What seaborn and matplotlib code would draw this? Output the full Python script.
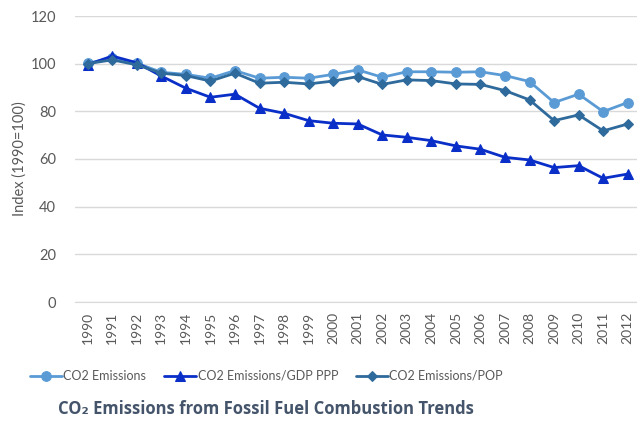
import matplotlib
matplotlib.use("Agg")
import matplotlib.pyplot as plt
import seaborn as sns
import pandas as pd

# Values (index, 1990 = 100)
years = list(range(1990, 2013))
co2_emissions = [100.2, 102.3, 100.2, 96.4, 95.5, 93.9, 97.1, 93.9, 94.3, 93.9, 95.5,
                 97.4, 94.3, 96.6, 96.6, 96.4, 96.6, 95.0, 92.5, 83.7, 87.2, 79.9, 83.7]
co2_per_gdp = [99.6, 103.2, 100.4, 94.8, 89.7, 85.9, 87.2, 81.3, 79.2, 76.1, 75.0,
               74.7, 70.1, 69.1, 67.7, 65.5, 64.1, 60.7, 59.6, 56.4, 57.2, 51.9, 53.7]
co2_per_pop = [100.0, 101.6, 99.5, 96.0, 95.0, 92.7, 96.0, 91.8, 92.2, 91.5, 92.7,
               94.6, 91.3, 93.2, 92.9, 91.5, 91.3, 88.7, 84.8, 76.1, 78.5, 71.8, 74.7]

series_names = ["CO2 Emissions", "CO2 Emissions/GDP PPP", "CO2 Emissions/POP"]
series_values = [co2_emissions, co2_per_gdp, co2_per_pop]
colors = ["#5B9BD5", "#0A2FC8", "#2F6A9C"]
markers = ["o", "^", "D"]
msizes = [7, 7, 5]

sns.set_style("white")
plt.rcParams['font.family'] = ['Lato', 'DejaVu Sans']

fig = plt.figure(figsize=(6.37, 4.25), dpi=100)
ax = fig.add_axes([75.4 / 637, 1 - 302 / 425, (640 - 75.4) / 637, 286 / 425])

for name, vals, c, m, ms in zip(series_names, series_values, colors, markers, msizes):
    df = pd.DataFrame({"year": years, "value": vals})
    sns.lineplot(data=df, x="year", y="value", ax=ax, color=c, marker=m,
                 markersize=ms, markeredgecolor=c, linewidth=2, label=name)

ax.set_xlim(1989.5, 2012.5)
ax.set_ylim(0, 120)
ax.set_yticks(range(0, 121, 20))
ax.set_xticks(years)
ax.set_xticklabels([str(y) for y in years], rotation=90)
ax.set_xticks([y + 0.5 for y in years[:-1]] + [1989.5], minor=True)
ax.tick_params(axis="x", which="major", length=0, pad=7, labelsize=10, labelcolor="#595959")
ax.tick_params(axis="x", which="minor", length=5, color="#D9D9D9", width=1)
ax.tick_params(axis="y", length=0, pad=14, labelsize=10.5, labelcolor="#595959")
ax.yaxis.grid(True, color="#D9D9D9", linewidth=1)
ax.set_axisbelow(True)
for s in ["top", "right", "left"]:
    ax.spines[s].set_visible(False)
ax.spines["bottom"].set_color("#D9D9D9")
ax.set_xlabel("")
ax.set_ylabel("Index (1990=100)", fontsize=10.5, color="#595959", labelpad=3)

handles, labels = ax.get_legend_handles_labels()
ax.legend_.remove()
fig.legend(handles, labels, loc="center", bbox_to_anchor=(0.418, 1 - 376 / 425), ncol=3,
           frameon=False, fontsize=9, labelcolor="#595959", handlelength=2.6,
           handletextpad=0.1, columnspacing=1.4)

fig.text(0.418, 1 - 409 / 425, "CO\u2082 Emissions from Fossil Fuel Combustion Trends",
         ha="center", va="center", fontsize=12, fontweight="bold", color="#44546A",
         family=['Open Sans', 'DejaVu Sans'])

fig.savefig("out.png", dpi=100)
